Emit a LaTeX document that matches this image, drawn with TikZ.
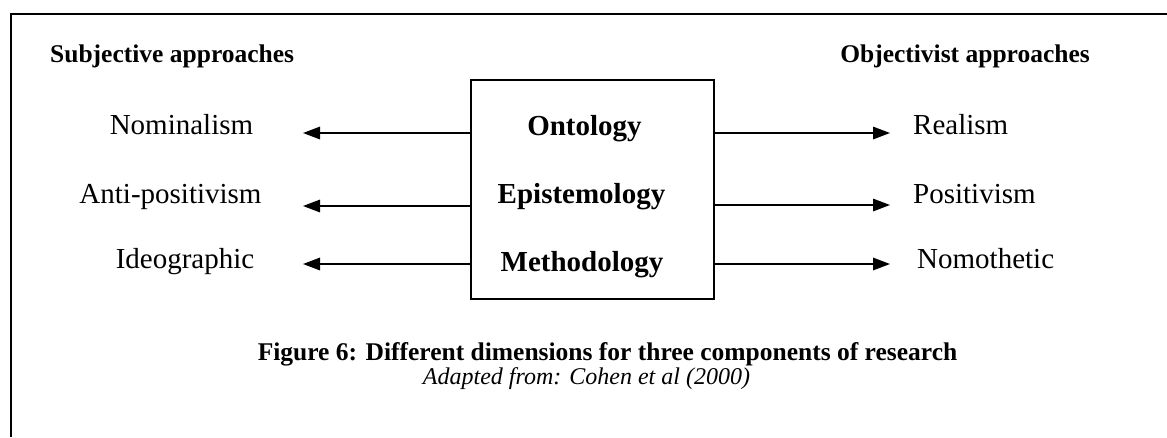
\documentclass[tikz,border=0pt]{standalone}
\usepackage{fontspec}
\setmainfont{Liberation Serif}
\usetikzlibrary{arrows.meta}
\tikzset{
  frameline/.style={line width=2.2pt},
  dimbox/.style={draw, line width=1.4pt, minimum width=243pt, minimum height=219pt, inner sep=0pt},
  lab/.style={inner sep=0pt, font=\fontsize{29}{29}\selectfont},
  comp/.style={inner sep=0pt, font=\fontsize{29}{29}\selectfont\bfseries},
  head/.style={inner sep=0pt, font=\fontsize{25.5}{25.5}\selectfont\bfseries},
  arr/.style={line width=1.5pt, -{Triangle[length=17pt,width=12.5pt]}}
}
\begin{document}
\begin{tikzpicture}[x=1pt, y=-1pt]
\useasboundingbox (0,0) rectangle (1167,437);

% open frame: top and left sides
\coordinate (fTL) at (11,14);
\coordinate (fTR) at (1167,14);
\coordinate (fBL) at (11,437);
\draw[frameline] (fTR) -- (fTL) -- (fBL);

% column headings
\node[head, anchor=base west] (subj) at (50,62) {Subjective approaches};
\node[head, anchor=base east] (obj) at (1090,62) {Objectivist approaches};

% central box with the three components
\node[dimbox] (box) at (592.5,189.5) {};
\node[comp, anchor=base] (onto) at (584.5,135) {Ontology};
\node[comp, anchor=base] (epis) at (581.5,203) {Epistemology};
\node[comp, anchor=base] (meth) at (582,271) {Methodology};

% subjective side
\node[lab, anchor=base] (nom) at (181.5,134) {Nominalism};
\node[lab, anchor=base] (anti) at (170.5,203) {Anti-positivism};
\node[lab, anchor=base] (ideo) at (185,268) {Ideographic};

% objectivist side
\node[lab, anchor=base west] (real) at (913,134) {Realism};
\node[lab, anchor=base west] (posi) at (913,203) {Positivism};
\node[lab, anchor=base west] (nomo) at (917,268) {Nomothetic};

% arrow tips
\coordinate (l1) at (303,133);
\coordinate (l2) at (303,206);
\coordinate (l3) at (303,264);
\coordinate (r1) at (890,133);
\coordinate (r2) at (890,205);
\coordinate (r3) at (890,264);

\draw[arr] (l1 -| box.west) -- (l1);
\draw[arr] (l2 -| box.west) -- (l2);
\draw[arr] (l3 -| box.west) -- (l3);
\draw[arr] (r1 -| box.east) -- (r1);
\draw[arr] (r2 -| box.east) -- (r2);
\draw[arr] (r3 -| box.east) -- (r3);

% caption
\node[head, anchor=base] (cap) at (607.5,360) {Figure 6: Different dimensions for three components of research};
\node[inner sep=0pt, anchor=base, font=\fontsize{24}{24}\selectfont\itshape] (src) at (586.5,384) {Adapted from: Cohen et al (2000)};
\end{tikzpicture}
\end{document}
